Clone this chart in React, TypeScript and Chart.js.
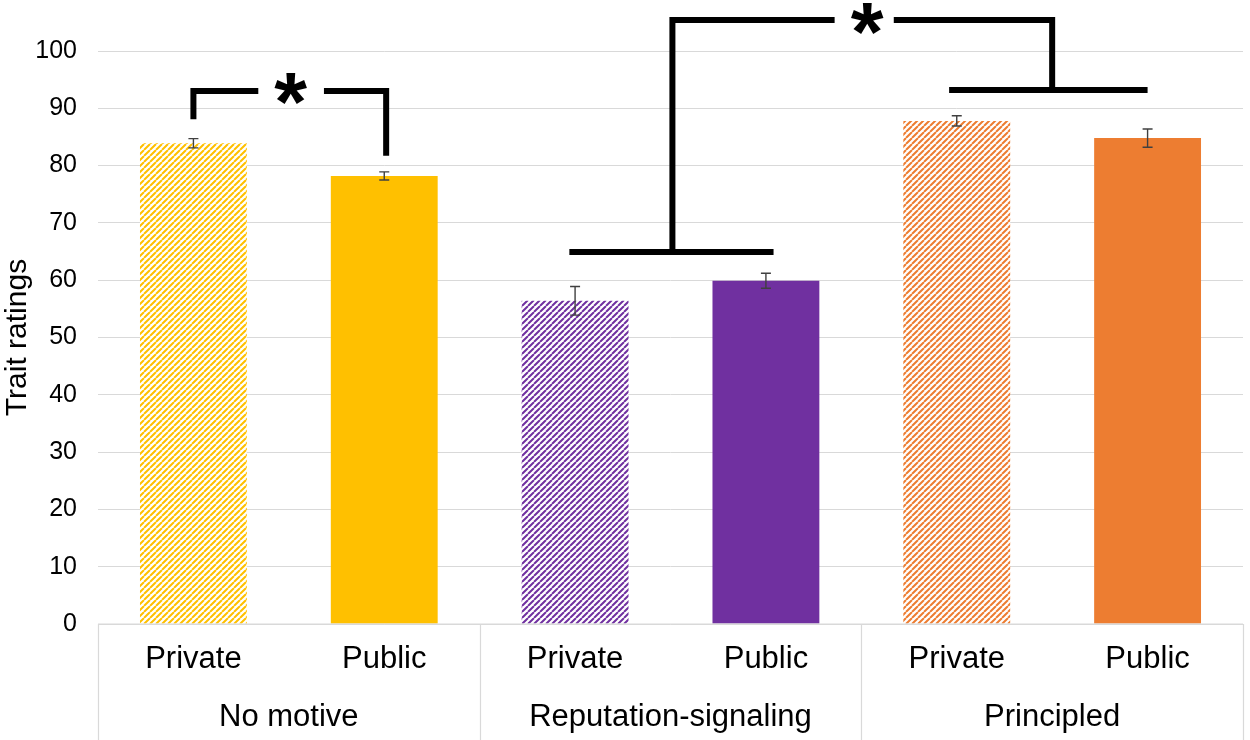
import React, { useEffect, useRef } from "react";
import { Chart, registerables } from "chart.js";

Chart.register(...registerables);

// ---- data ----
const conditions = ["Private", "Public", "Private", "Public", "Private", "Public"];
const groups = ["No motive", "Reputation-signaling", "Principled"];
const ratings = [83.9, 78.2, 56.4, 59.9, 87.8, 84.8];
const errors = [0.8, 0.7, 2.5, 1.3, 0.9, 1.6];
const barColors = ["#FFC000", "#FFC000", "#7030A0", "#7030A0", "#ED7D31", "#ED7D31"];
const hatched = [true, false, true, false, true, false];
const yMin = 0;
const yMax = 100;
const yStep = 10;

// significance brackets, as [category index, rating] points
const bracketPaths: [number, number][][] = [
  [[0, 88.1], [0, 93.0], [0.34, 93.0]],
  [[0.684, 93.0], [1.01, 93.0], [1.01, 81.7]],
  [[1.97, 64.9], [3.04, 64.9]],
  [[2.51, 64.9], [2.51, 105.4], [3.36, 105.4]],
  [[3.67, 105.4], [4.5, 105.4], [4.5, 93.2]],
  [[3.96, 93.2], [5.0, 93.2]],
];
const stars: [number, number][] = [
  [0.51, 93.3],
  [3.53, 105.6],
];

const FONT = '"Liberation Sans", Arial, sans-serif';

function makeHatch(color: string): CanvasPattern | string {
  const s = 6;
  const c = document.createElement("canvas");
  c.width = s;
  c.height = s;
  const g = c.getContext("2d");
  if (!g) return color;
  g.fillStyle = "#ffffff";
  g.fillRect(0, 0, s, s);
  g.strokeStyle = color;
  g.lineWidth = 2.0;
  g.beginPath();
  for (const k of [-s, 0, s]) {
    g.moveTo(k, s);
    g.lineTo(k + s, 0);
  }
  g.stroke();
  return g.createPattern(c, "repeat") || color;
}

const overlayPlugin = {
  id: "overlay",
  afterDatasetsDraw(chart: any) {
    const { ctx, scales } = chart;
    const x = scales.x;
    const y = scales.y;
    // error bars
    ctx.save();
    ctx.strokeStyle = "#404040";
    ctx.lineWidth = 1.4;
    ratings.forEach((v, i) => {
      const px = x.getPixelForValue(i);
      const t = y.getPixelForValue(v + errors[i]);
      const b = y.getPixelForValue(v - errors[i]);
      ctx.beginPath();
      ctx.moveTo(px, t);
      ctx.lineTo(px, b);
      ctx.moveTo(px - 5, t);
      ctx.lineTo(px + 5, t);
      ctx.moveTo(px - 5, b);
      ctx.lineTo(px + 5, b);
      ctx.stroke();
    });
    ctx.restore();
  },
  afterDraw(chart: any) {
    const { ctx, scales, chartArea, height } = chart;
    const x = scales.x;
    const y = scales.y;
    ctx.save();
    // category axis frame
    ctx.strokeStyle = "#d9d9d9";
    ctx.lineWidth = 1.2;
    ctx.beginPath();
    ctx.moveTo(chartArea.left, chartArea.bottom);
    ctx.lineTo(chartArea.right, chartArea.bottom);
    const seps = [chartArea.left, x.getPixelForValue(1.5), x.getPixelForValue(3.5), chartArea.right];
    seps.forEach((sx) => {
      const px = Math.round(sx) + 0.5;
      ctx.moveTo(px, chartArea.bottom);
      ctx.lineTo(px, height);
    });
    ctx.stroke();

    // brackets
    ctx.strokeStyle = "#000000";
    ctx.lineWidth = 6;
    ctx.lineJoin = "miter";
    ctx.lineCap = "butt";
    bracketPaths.forEach((path) => {
      ctx.beginPath();
      path.forEach(([cx, cy], k) => {
        const px = x.getPixelForValue(cx);
        const py = y.getPixelForValue(cy);
        if (k === 0) ctx.moveTo(px, py);
        else ctx.lineTo(px, py);
      });
      ctx.stroke();
    });

    // stars
    ctx.fillStyle = "#000000";
    ctx.font = `bold 100px ${FONT}`;
    const m0 = ctx.measureText("*");
    const h0 = m0.actualBoundingBoxAscent + m0.actualBoundingBoxDescent;
    const size = h0 > 0 ? (100 * 32) / h0 : 90;
    ctx.font = `bold ${size}px ${FONT}`;
    ctx.textAlign = "center";
    ctx.textBaseline = "alphabetic";
    const m = ctx.measureText("*");
    stars.forEach(([cx, cy]) => {
      const px = x.getPixelForValue(cx);
      const py = y.getPixelForValue(cy);
      const base = py + (m.actualBoundingBoxAscent - m.actualBoundingBoxDescent) / 2;
      ctx.fillText("*", px, base);
    });
    ctx.restore();
  },
};

export default function App() {
  const ref = useRef<HTMLCanvasElement | null>(null);

  useEffect(() => {
    if (!ref.current) return;
    const bg = barColors.map((c, i) => (hatched[i] ? makeHatch(c) : c));
    const chart = new Chart(ref.current, {
      type: "bar",
      data: {
        labels: conditions,
        datasets: [
          {
            data: ratings,
            backgroundColor: bg as any,
            borderWidth: 0,
            barPercentage: 0.56,
            categoryPercentage: 1,
          },
        ],
      },
      options: {
        responsive: false,
        animation: false,
        events: [],
        layout: { padding: { top: 51, right: 7, bottom: 0, left: 0 } },
        plugins: { legend: { display: false }, tooltip: { enabled: false } },
        scales: {
          x: {
            type: "category",
            position: "bottom",
            weight: 0,
            grid: { display: false, drawTicks: false },
            border: { display: false },
            ticks: { color: "#000", font: { size: 31, family: FONT }, padding: 17, maxRotation: 0 },
            afterFit: (s: any) => {
              s.height = 56;
            },
          },
          x2: {
            type: "category",
            position: "bottom",
            weight: 1,
            labels: groups,
            offset: true,
            grid: { display: false, drawTicks: false },
            border: { display: false },
            ticks: { color: "#000", font: { size: 31, family: FONT }, padding: 19, maxRotation: 0 },
            afterFit: (s: any) => {
              s.height = 60;
            },
          },
          y: {
            min: yMin,
            max: yMax,
            grid: { color: "#d9d9d9", lineWidth: 1, drawTicks: false },
            border: { display: false },
            ticks: { stepSize: yStep, color: "#000", font: { size: 25, family: FONT }, padding: 21 },
            title: {
              display: true,
              text: "Trait ratings",
              color: "#000",
              font: { size: 30, family: FONT },
              padding: 0,
            },
            afterFit: (s: any) => {
              s.width = 98;
            },
          },
        },
      },
      plugins: [overlayPlugin],
    });
    return () => chart.destroy();
  }, []);

  return (
    <div style={{ position: "fixed", left: 0, top: 0, width: 1250, height: 740, background: "#fff" }}>
      <canvas ref={ref} width={1250} height={740} style={{ display: "block" }} />
    </div>
  );
}
